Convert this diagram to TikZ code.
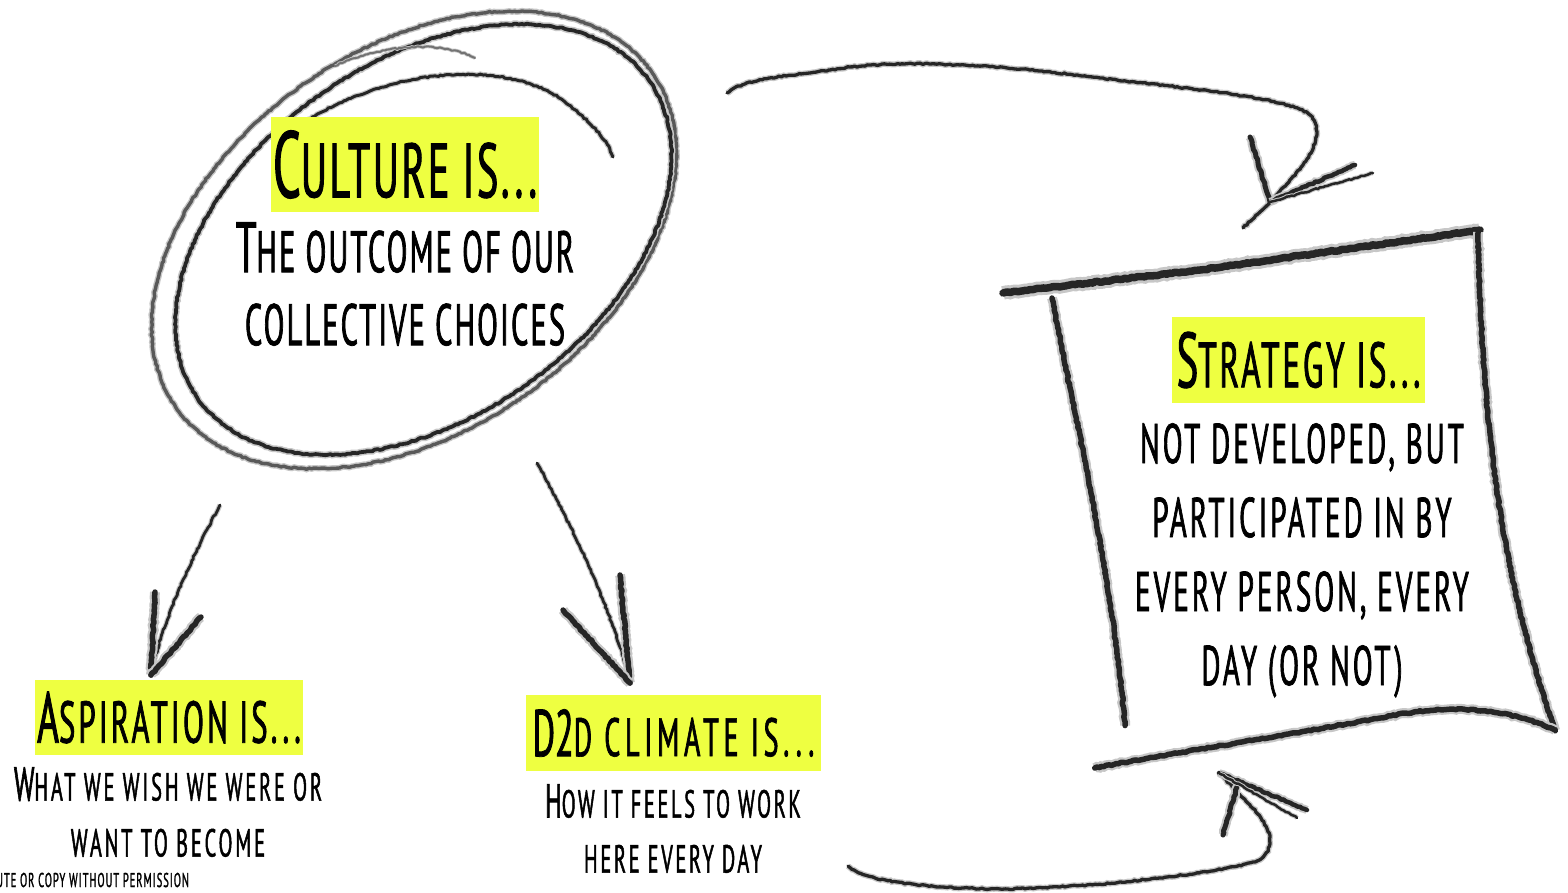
\documentclass[tikz,border=0pt]{standalone}
\usepackage{fontspec}
\usepackage{graphicx}
\usetikzlibrary{decorations.pathmorphing}

\newfontfamily\sketchfont[FakeStretch=0.52, FakeBold=1.2, LetterSpace=4]{PT Sans}
\definecolor{hlyellow}{HTML}{EEFF41}

% tall first letter, the rest is set in caps of the running size
\newcommand{\Ini}[1]{\scalebox{1.22}{#1}}
\newcommand{\SketchSize}[3][4]{\sketchfont\addfontfeatures{LetterSpace=#1}%
    \fontsize{#2}{#3}\selectfont}

\begin{document}
\begin{tikzpicture}[x=1pt,y=-1pt,
    sketch/.style={draw=black!85, line width=#1, line cap=round, line join=round,
        decorate, decoration={random steps, segment length=2.5pt, amplitude=.7pt},
        preaction={draw=black!22, line width=1.8*#1}},
    sketch/.default=3pt,
    hilite/.style={fill=hlyellow, inner sep=0pt, align=center},
    body/.style={inner sep=0pt, align=center, anchor=north}]

\pgfmathsetseed{11}

% Page
\useasboundingbox (0,0) rectangle (1568,892);
\fill[white] (0,0) rectangle (1568,892);

% =====================================================
% CULTURE (loop drawn twice round the text)
% =====================================================
\begin{scope}[shift={(414,240)}, rotate=35]
    \draw[sketch=3.4pt, draw=black!65] (0,0) ellipse[x radius=291, y radius=191];
    \draw[sketch=3.8pt] (8,5) ellipse[x radius=276, y radius=178];
\end{scope}
\draw[sketch=3pt] (276,143) .. controls (360,72) and (500,52) .. (565,102)
    .. controls (595,125) and (608,142) .. (613,157);
\draw[sketch=2pt, draw=black!55] (335,66) .. controls (380,45) and (440,40) .. (475,58);

\node[hilite, minimum width=268, minimum height=95, font={\SketchSize[3.4]{77}{90}}]
    (culture) at (405,164.5) {\Ini{C}ULTURE IS...};
\node[body, font={\SketchSize[3.6]{58.5}{73}}] (cultureText) at (405,222)
    {\Ini{T}HE OUTCOME OF OUR\\COLLECTIVE CHOICES};

% =====================================================
% STRATEGY (rough box)
% =====================================================
\draw[sketch=7.5pt] (1003,293) -- (1200,270) -- (1480,230);
\draw[sketch=5.5pt] (1478,232) .. controls (1482,400) and (1495,560) .. (1555,730);
\draw[sketch=5.5pt] (1555,730) .. controls (1500,705) and (1440,705) .. (1380,718)
    .. controls (1260,740) and (1160,755) .. (1095,768);
\draw[sketch=5.5pt] (1052,298) .. controls (1075,420) and (1110,560) .. (1125,725);

\node[hilite, minimum width=253, minimum height=86, font={\SketchSize[4.3]{64}{80}}]
    (strategy) at (1298.5,360) {\Ini{S}TRATEGY IS...};
\node[body, font={\SketchSize[5.4]{56}{74}}] (strategyText) at (1302,423)
    {NOT DEVELOPED, BUT\\PARTICIPATED IN BY\\EVERY PERSON, EVERY\\DAY (OR NOT)};

% =====================================================
% ASPIRATION
% =====================================================
\node[hilite, minimum width=268, minimum height=75, font={\SketchSize[5.4]{59}{72}}]
    (aspiration) at (169,717.5) {\Ini{A}SPIRATION IS...};
\node[body, font={\SketchSize[7.4]{39}{56}}] (aspirationText) at (168,767)
    {\Ini{W}HAT WE WISH WE WERE OR\\WANT TO BECOME};

% =====================================================
% D2D CLIMATE
% =====================================================
\node[hilite, minimum width=295, minimum height=76, font={\SketchSize[8.7]{54}{66}}]
    (climate) at (673.5,733) {\Ini{D}\Ini{2}D CLIMATE IS...};
\node[body, font={\SketchSize[6.9]{39}{55}}] (climateText) at (673,784)
    {\Ini{H}OW IT FEELS TO WORK\\HERE EVERY DAY};

% footer line, cut at the page edge
\node[anchor=base west, inner sep=0pt, font={\SketchSize[5]{20}{22}}]
    (notice) at (-4,887) {UTE OR COPY WITHOUT PERMISSION};

% =====================================================
% ARROWS
% =====================================================
\coordinate (aspFrom) at (220,505);
\coordinate (aspTip) at (151,675);
\draw[sketch=2.8pt] (aspFrom) .. controls (185,570) and (160,630) .. (aspTip);
\draw[sketch=5.5pt] (aspTip) -- (155,592);
\draw[sketch=5.5pt] (aspTip) -- (201,617);

\coordinate (climFrom) at (537,463);
\coordinate (climTip) at (630,683);
\draw[sketch=2.8pt] (climFrom) .. controls (580,540) and (615,620) .. (climTip);
\draw[sketch=5.5pt] (climTip) -- (620,575);
\draw[sketch=5.5pt] (climTip) -- (563,610);

% culture -> strategy, over the top
\coordinate (topFrom) at (727,93);
\coordinate (topTip) at (1270,202);
\draw[sketch=3.3pt] (topFrom) .. controls (745,78) and (790,76) .. (830,70)
    .. controls (900,58) and (1000,65) .. (1100,78)
    .. controls (1200,90) and (1290,98) .. (1310,115)
    .. controls (1330,140) and (1300,170) .. (topTip) -- (1243,228);
\draw[sketch=5pt] (topTip) -- (1250,137);
\draw[sketch=4.5pt] (topTip) -- (1355,165);
\draw[sketch=2.5pt] (topTip) -- (1373,173);

% climate -> strategy, along the bottom
\coordinate (botFrom) at (848,866);
\coordinate (botTip) at (1219,773);
\draw[sketch=3.3pt] (botFrom) .. controls (860,880) and (920,888) .. (1000,889)
    .. controls (1100,888) and (1220,872) .. (1255,862)
    .. controls (1280,850) and (1270,825) .. (1250,805) -- (botTip);
\draw[sketch=5pt] (1237,787) -- (1223,835);
\draw[sketch=4.5pt] (botTip) -- (1307,810);
\draw[sketch=2.5pt] (botTip) -- (1297,818);

\end{tikzpicture}
\end{document}
